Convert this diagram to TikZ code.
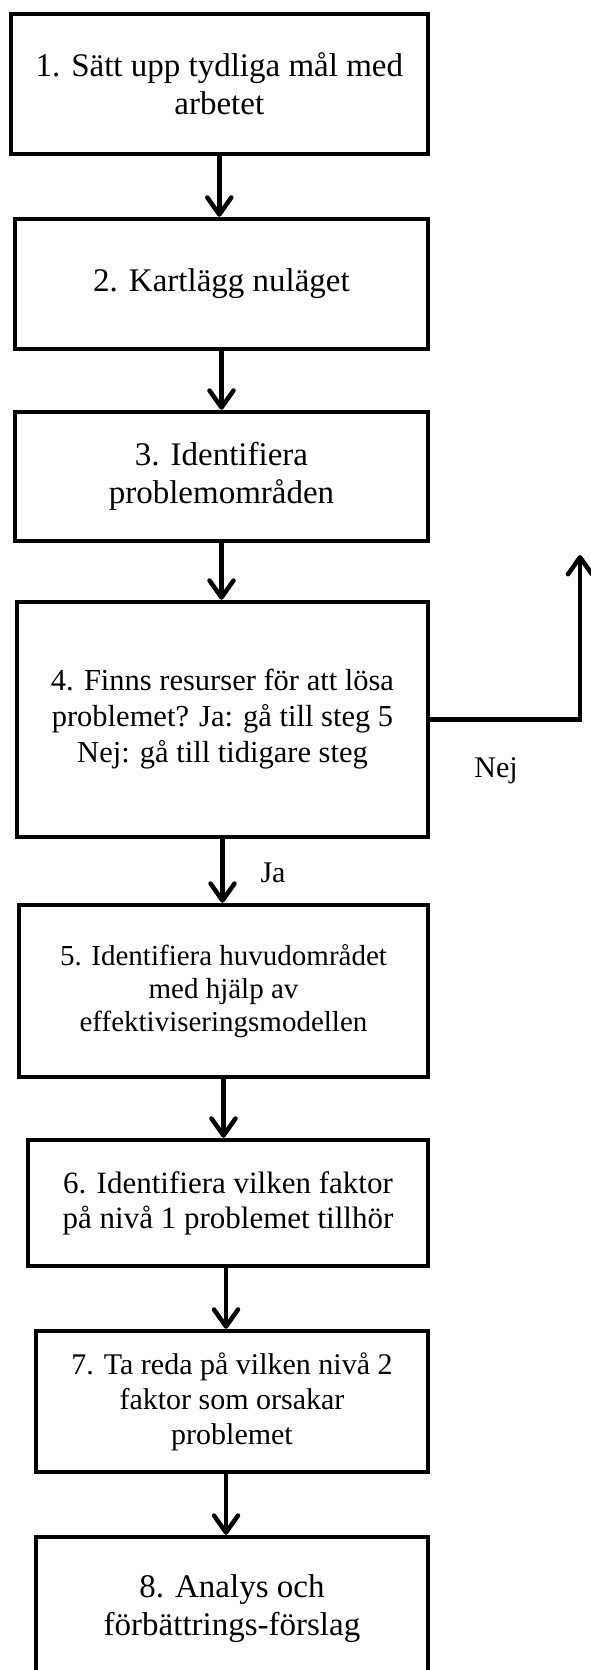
\documentclass[tikz,border=0pt]{standalone}
\usepackage{fontspec}
\setmainfont{Liberation Serif}
\usetikzlibrary{arrows.meta,calc}
\begin{document}
\begin{tikzpicture}[x=1pt,y=-1pt,
  box/.style={draw,line width=4.5pt,inner sep=0pt,align=center},
  arr/.style={line width=4.5pt,-{Straight Barb[length=17pt,width=24pt,round]}},
  lbl/.style={inner sep=0pt,font=\fontsize{30}{36}\selectfont}]
\useasboundingbox (0,0) rectangle (591,1670);
\clip (0,0) rectangle (591,1670);
\node[box,minimum width=417pt,minimum height=140pt,font=\fontsize{33}{38}\selectfont] (b1) at (219.3,84) {1. Sätt upp tydliga mål med\\arbetet};
\node[box,minimum width=413pt,minimum height=130pt,font=\fontsize{33}{38}\selectfont] (b2) at (221.5,284) {2. Kartlägg nuläget};
\node[box,minimum width=413pt,minimum height=129pt,font=\fontsize{33}{38}\selectfont] (b3) at (221.5,476.5) {3. Identifiera\\problemområden};
\node[box,minimum width=411pt,minimum height=235pt,font=\fontsize{30.5}{36}\selectfont] (b4) at (222.5,719.5) {\raisebox{-4pt}{\begin{tabular}{@{}c@{}}4. Finns resurser för att lösa\\problemet? Ja: gå till steg 5\\Nej: gå till tidigare steg\end{tabular}}};
\node[box,minimum width=409pt,minimum height=172pt,font=\fontsize{29}{33}\selectfont] (b5) at (223.5,991) {5. Identifiera huvudområdet\\med hjälp av\\effektiviseringsmodellen};
\node[box,minimum width=400pt,minimum height=126pt,font=\fontsize{31}{35}\selectfont] (b6) at (228,1203) {6. Identifiera vilken faktor\\på nivå 1 problemet tillhör};
\node[box,minimum width=392pt,minimum height=141pt,font=\fontsize{30}{35}\selectfont] (b7) at (232,1401.5) {7. Ta reda på vilken nivå 2\\faktor som orsakar\\problemet};
\node[box,minimum width=392pt,minimum height=143pt,font=\fontsize{33}{38}\selectfont] (b8) at (232,1608.5) {8. Analys och\\förbättrings-förslag};
\draw[arr] (b1.south) -- (b1.south |- b2.north);
\draw[arr] (b2.south) -- (b2.south |- b3.north);
\draw[arr] (b3.south) -- (b3.south |- b4.north);
\draw[arr] (b4.south) -- (b4.south |- b5.north);
\draw[arr] (b5.south) -- (b5.south |- b6.north);
\draw[arr] ($(b6.south)+(-2,0)$) -- ($(b6.south |- b7.north)+(-2,0)$);
\draw[arr] ($(b7.south)+(-6,0)$) -- ($(b7.south |- b8.north)+(-6,0)$);
\coordinate (nejend) at (580,555);
\draw[arr] (b4.east) -| (nejend);
\node[lbl] (ja) at (273,873) {Ja};
\node[lbl] (nej) at (496,771) {Nej};
\end{tikzpicture}
\end{document}
